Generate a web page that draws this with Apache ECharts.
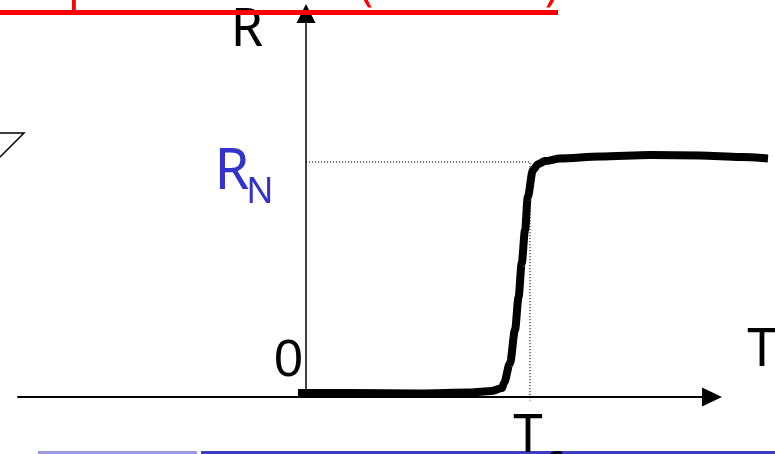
<!DOCTYPE html>
<html>
<head>
<meta charset="utf-8">
<script src="https://cdn.jsdelivr.net/npm/echarts@6/dist/echarts.min.js"></script>
<style>
html,body{margin:0;padding:0;background:#fff;}
#chart{width:775px;height:454px;}
</style>
</head>
<body>
<div id="chart"></div>
<script>
// Temperature (units of Tc) and resistance (units of R_N)
const temperature = [-0.036, 0.196, 0.509, 0.732, 0.830, 0.875, 0.884, 0.911, 0.933, 0.949, 0.963, 0.978, 0.990, 1.013, 1.036, 1.067, 1.134, 1.313, 1.536, 1.759, 1.938, 2.0625];
const resistance  = [0.017, 0.017, 0.015, 0.019, 0.026, 0.038, 0.060, 0.145, 0.285, 0.426, 0.570, 0.711, 0.851, 0.966, 0.991, 1.004, 1.015, 1.023, 1.030, 1.028, 1.021, 1.015];
const Tc = 1;
const RN = 1;
const axisRange = [-1.2857, 1.8125];   // visible T axis (arrow end)
const plotRange = [-1.2857, 2.09375];  // full-width plotting scale (same px per unit)
const yRange = [0, 1.632];
const labels = { yName: 'R', xName: 'T', zero: '0', rn: 'R', rnSub: 'N', tc: 'T', tcSub: 'c' };
const titleText = 'Superconductor (function)';

const curve = temperature.map((t, i) => [t, resistance[i]]);
const guide = [[0, RN], [Tc, RN], [Tc, -0.015]];

const chart = echarts.init(document.getElementById('chart'), null, { renderer: 'canvas' });
const hand = '"Noto Sans", sans-serif';
const hidden = { axisLine: { show: false }, axisTick: { show: false }, axisLabel: { show: false }, splitLine: { show: false } };

chart.setOption({
  animation: false,
  grid: [
    { left: 18, right: 63, top: 13.5, bottom: 57 },
    { left: 18, right: 0, top: 13.5, bottom: 57 }
  ],
  xAxis: [
    {
      type: 'value', gridIndex: 0, min: axisRange[0], max: axisRange[1],
      axisLine: { show: true, onZero: true, symbol: ['none', 'triangle'], symbolSize: [19, 20], lineStyle: { color: '#000', width: 2 } },
      axisTick: { show: false }, axisLabel: { show: false }, splitLine: { show: false }
    },
    Object.assign({ type: 'value', gridIndex: 1, min: plotRange[0], max: plotRange[1] }, hidden)
  ],
  yAxis: [
    {
      type: 'value', gridIndex: 0, min: yRange[0], max: yRange[1],
      axisLine: { show: true, onZero: true, symbol: ['none', 'triangle'], symbolSize: [19, 19], lineStyle: { color: '#000', width: 1.5 } },
      axisTick: { show: false }, axisLabel: { show: false }, splitLine: { show: false }
    },
    Object.assign({ type: 'value', gridIndex: 1, min: yRange[0], max: yRange[1] }, hidden)
  ],
  series: [
    {
      type: 'line', xAxisIndex: 1, yAxisIndex: 1, data: guide, symbol: 'none', clip: false, z: 1,
      lineStyle: { color: '#000', width: 1, type: [1.2, 1.8] }
    },
    {
      type: 'line', xAxisIndex: 1, yAxisIndex: 1, data: curve, symbol: 'none', clip: false, z: 3,
      smooth: 0.3, smoothMonotone: 'x',
      lineStyle: { color: '#000', width: 8, cap: 'butt', join: 'round' }
    }
  ],
  graphic: [
    { type: 'text', x: 558, y: -12.5, z: 5, style: { text: titleText, font: '44px ' + hand, fill: '#ff0000', textAlign: 'right', textVerticalAlign: 'middle' } },
    { type: 'rect', shape: { x: 0, y: 10, width: 558, height: 5 }, style: { fill: '#ff0000' }, z: 4 },
    { type: 'polyline', shape: { points: [[0, 133], [24, 133], [0, 157]] }, style: { stroke: '#000', lineWidth: 1.5, fill: null } },
    { type: 'rect', shape: { x: 38, y: 451, width: 159, height: 3 }, style: { fill: '#9a9ade' } },
    { type: 'rect', shape: { x: 201, y: 451, width: 574, height: 3 }, style: { fill: '#3c3cc0' } },
    { type: 'text', x: 247, y: 31, style: { text: labels.yName, font: '52px ' + hand, fill: '#000', textAlign: 'center', textVerticalAlign: 'middle' } },
    { type: 'text', x: 232, y: 173, style: { text: labels.rn, font: '56px ' + hand, fill: '#3333cc', textAlign: 'center', textVerticalAlign: 'middle' } },
    { type: 'text', x: 260, y: 193, style: { text: labels.rnSub, font: '36px ' + hand, fill: '#3333cc', textAlign: 'center', textVerticalAlign: 'middle' } },
    { type: 'text', x: 288.5, y: 362, style: { text: labels.zero, font: '52px "Liberation Sans", Arial, sans-serif', fill: '#000', textAlign: 'center', textVerticalAlign: 'middle' } },
    { type: 'text', x: 762, y: 351, style: { text: labels.xName, font: '53px ' + hand, fill: '#000', textAlign: 'center', textVerticalAlign: 'middle' } },
    { type: 'text', x: 528, y: 437, style: { text: labels.tc, font: '53px ' + hand, fill: '#000', textAlign: 'center', textVerticalAlign: 'middle' } },
    { type: 'text', x: 555, y: 461, style: { text: labels.tcSub, font: '36px ' + hand, fill: '#000', textAlign: 'center', textVerticalAlign: 'middle' } }
  ]
});
</script>
</body>
</html>
